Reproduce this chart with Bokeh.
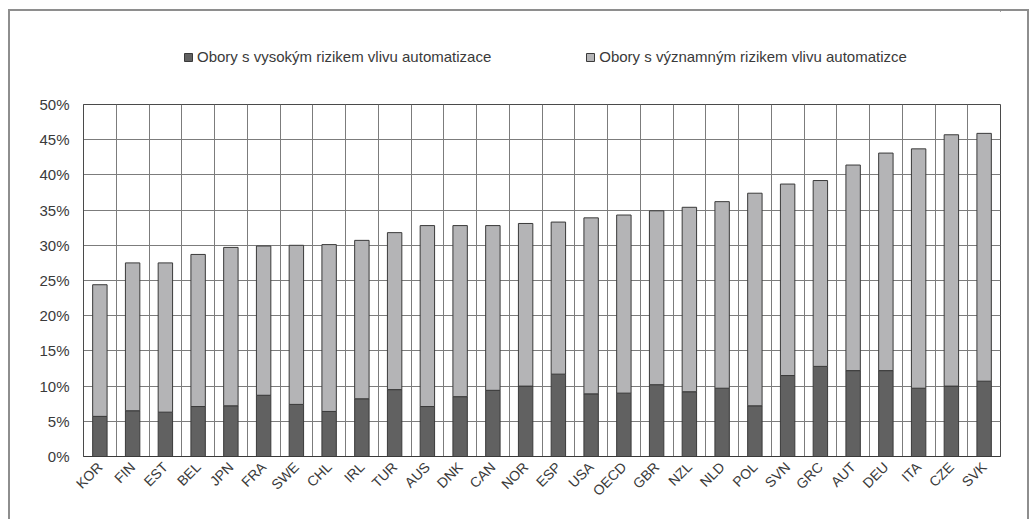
from math import pi
from bokeh.plotting import figure
from bokeh.layouts import column
from bokeh.models import FactorRange, Range1d, FixedTicker, Grid, Legend, LegendItem, ColumnDataSource
from bokeh.embed import file_html
from bokeh.resources import INLINE

countries = ["KOR", "FIN", "EST", "BEL", "JPN", "FRA", "SWE", "CHL", "IRL", "TUR",
             "AUS", "DNK", "CAN", "NOR", "ESP", "USA", "OECD", "GBR", "NZL", "NLD",
             "POL", "SVN", "GRC", "AUT", "DEU", "ITA", "CZE", "SVK"]
high_risk = [5.7, 6.5, 6.3, 7.1, 7.2, 8.7, 7.4, 6.4, 8.2, 9.5,
             7.1, 8.5, 9.4, 10.0, 11.7, 8.9, 9.0, 10.2, 9.2, 9.7,
             7.2, 11.5, 12.8, 12.2, 12.2, 9.7, 10.0, 10.7]
significant_risk = [18.7, 21.0, 21.2, 21.6, 22.5, 21.2, 22.6, 23.7, 22.5, 22.3,
                    25.7, 24.3, 23.4, 23.1, 21.6, 25.0, 25.3, 24.7, 26.2, 26.5,
                    30.2, 27.2, 26.4, 29.2, 30.9, 34.0, 35.7, 35.2]
series_names = ["Obory s vysokým rizikem vlivu automatizace",
                "Obory s významným rizikem vlivu automatizce"]
y_ticks = [0, 5, 10, 15, 20, 25, 30, 35, 40, 45, 50]
y_tick_labels = ["0%", "5%", "10%", "15%", "20%", "25%", "30%", "35%", "40%", "45%", "50%"]

colors = ["#616161", "#b4b4b6"]
line_color = "#3a3a3a"
grid_color = "#7c7c7c"
text_color = "#3a3a3a"
font = "Liberation Sans"

source = ColumnDataSource(dict(country=countries, high=high_risk, significant=significant_risk))

# ---- legend strip (own small figure so the legend is not clipped) ----
leg = figure(width=1017, height=83, output_backend="svg", toolbar_location=None,
             x_range=Range1d(0, 1), y_range=Range1d(0, 1),
             min_border_left=0, min_border_right=0, min_border_top=0, min_border_bottom=0)
leg.axis.visible = False
leg.grid.visible = False
leg.outline_line_color = None
# legend proxies (placed outside the visible range, only their swatches are shown)
leg_r = [leg.vbar(x=[5], top=[5], bottom=[4], width=1, fill_color=c, line_color=line_color)
         for c in colors]
legend = Legend(items=[LegendItem(label=series_names[0], renderers=[leg_r[0]]),
                       LegendItem(label=series_names[1], renderers=[leg_r[1]])],
                orientation="horizontal", location=(100, 29),
                padding=0, margin=0, spacing=94,
                glyph_width=10, glyph_height=10, label_standoff=4,
                label_text_font=font, label_text_font_size="15px",
                label_text_color=text_color,
                border_line_color=None, background_fill_alpha=0)
leg.add_layout(legend, "center")

# ---- main chart ----
p = figure(x_range=FactorRange(factors=countries, range_padding=0, factor_padding=0),
           y_range=Range1d(0, 50),
           width=1017, height=425,
           output_backend="svg", toolbar_location=None,
           min_border_left=73, min_border_right=27, min_border_top=10, min_border_bottom=63)

p.vbar_stack(["high", "significant"], x="country", width=0.44, source=source,
             fill_color=colors, line_color=line_color, line_width=1)

p.background_fill_color = "white"
p.outline_line_color = "#4a4a4a"
p.outline_line_width = 1

p.xgrid.visible = False
p.add_layout(Grid(dimension=0, ticker=FixedTicker(ticks=list(range(1, len(countries)))),
                  grid_line_color=grid_color, grid_line_width=1), "center")
p.ygrid.ticker = FixedTicker(ticks=y_ticks)
p.ygrid.grid_line_color = grid_color
p.ygrid.grid_line_width = 1

p.yaxis.ticker = FixedTicker(ticks=y_ticks)
p.yaxis.major_label_overrides = {t: l for t, l in zip(y_ticks, y_tick_labels)}
p.yaxis.axis_line_color = "#4a4a4a"
p.yaxis.major_tick_out = 0
p.yaxis.major_tick_in = 0
p.yaxis.minor_tick_line_color = None
p.yaxis.major_label_standoff = 14
p.yaxis.major_label_text_font = font
p.yaxis.major_label_text_font_size = "15px"
p.yaxis.major_label_text_color = text_color

xax = p.xaxis[0]
xax.axis_line_color = line_color
xax.major_tick_out = 0
xax.major_tick_in = 0
xax.major_label_orientation = pi / 4
xax.major_label_standoff = 8
xax.major_label_text_font = font
xax.major_label_text_font_size = "14px"
xax.major_label_text_color = text_color

layout = column(leg, p, spacing=0)
layout.margin = (9, 0, 0, 8)
layout.styles = {"border-top": "2px solid #8e8e8e", "border-left": "2px solid #8e8e8e",
                 "border-right": "2px solid #8e8e8e"}

open("out.html", "w").write(file_html(layout, INLINE))
